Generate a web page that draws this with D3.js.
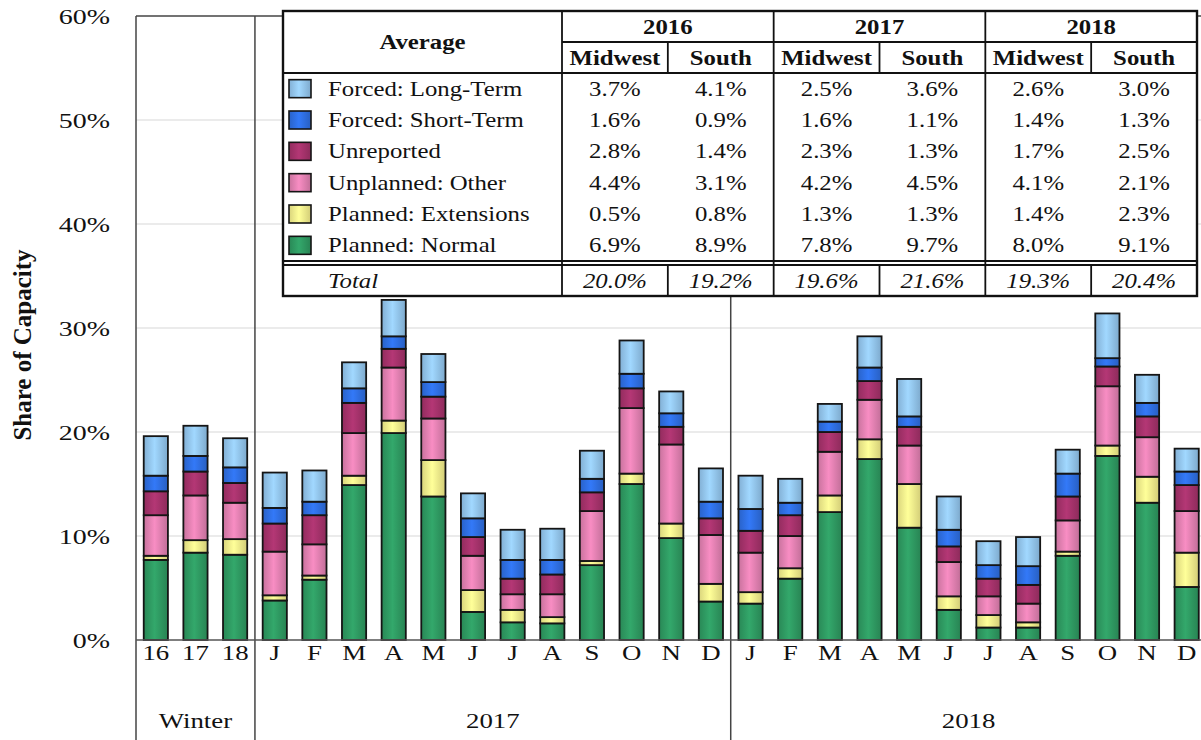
<!DOCTYPE html>
<html>
<head>
<meta charset="utf-8">
<script src="https://cdn.jsdelivr.net/npm/d3@7"></script>
<style>
  body { margin: 0; background: #fff; }
  svg text { font-family: "Liberation Serif", "Times New Roman", serif; fill: #111; }
</style>
</head>
<body>
<div id="chart"></div>
<script>
// tick labels along the bottom (3 winter averages, then 2017 and 2018 months)
var tickLabels = ["16", "17", "18",
  "J", "F", "M", "A", "M", "J", "J", "A", "S", "O", "N", "D",
  "J", "F", "M", "A", "M", "J", "J", "A", "S", "O", "N", "D"];
var groupLabels = ["Winter", "2017", "2018"];
var groupStarts = [0, 3, 15];
var groupEnds = [3, 15, 27];
var yTicks = [0, 10, 20, 30, 40, 50, 60];

// series, bottom to top of each stack (% of capacity)
var planNormal = [7.7, 8.4, 8.2, 3.8, 5.8, 14.9, 19.9, 13.8, 2.7, 1.7, 1.6, 7.2, 15.0, 9.8, 3.7,
  3.5, 5.9, 12.3, 17.4, 10.8, 2.9, 1.2, 1.2, 8.1, 17.7, 13.2, 5.1];
var planExt = [0.4, 1.2, 1.5, 0.5, 0.4, 0.9, 1.2, 3.5, 2.1, 1.2, 0.6, 0.4, 1.0, 1.4, 1.7,
  1.1, 1.0, 1.6, 1.9, 4.2, 1.3, 1.2, 0.5, 0.4, 1.0, 2.5, 3.3];
var unplOther = [3.9, 4.3, 3.5, 4.2, 3.0, 4.1, 5.1, 4.0, 3.3, 1.5, 2.2, 4.8, 6.3, 7.6, 4.7,
  3.8, 3.1, 4.2, 3.8, 3.7, 3.3, 1.8, 1.8, 3.0, 5.7, 3.8, 4.0];
var unreported = [2.3, 2.3, 1.9, 2.7, 2.8, 2.9, 1.8, 2.1, 1.8, 1.5, 1.9, 1.8, 1.9, 1.7, 1.6,
  2.1, 2.0, 1.9, 1.8, 1.8, 1.5, 1.7, 1.8, 2.3, 1.9, 2.0, 2.5];
var forcedShort = [1.5, 1.5, 1.5, 1.5, 1.3, 1.4, 1.2, 1.4, 1.8, 1.8, 1.4, 1.3, 1.4, 1.3, 1.6,
  2.1, 1.2, 1.0, 1.3, 1.0, 1.6, 1.3, 1.8, 2.2, 0.8, 1.3, 1.3];
var forcedLong = [3.8, 2.9, 2.8, 3.4, 3.0, 2.5, 3.5, 2.7, 2.4, 2.9, 3.0, 2.7, 3.2, 2.1, 3.2,
  3.2, 2.3, 1.7, 3.0, 3.6, 3.2, 2.3, 2.8, 2.3, 4.3, 2.7, 2.2];

var seriesKeys = ["normal", "ext", "other", "unrep", "short", "long"];
var seriesColors = ["#2f9a62", "#f6f08c", "#e381b2", "#a5326b", "#2f6fe3", "#93c6f0"];

// table of averages
var tableYears = ["2016", "2017", "2018"];
var tableRegions = ["Midwest", "South"];
// columns: 16 MW, 16 S, 17 MW, 17 S, 18 MW, 18 S
var avgLong = ["3.7%", "4.1%", "2.5%", "3.6%", "2.6%", "3.0%"];
var avgShort = ["1.6%", "0.9%", "1.6%", "1.1%", "1.4%", "1.3%"];
var avgUnrep = ["2.8%", "1.4%", "2.3%", "1.3%", "1.7%", "2.5%"];
var avgOther = ["4.4%", "3.1%", "4.2%", "4.5%", "4.1%", "2.1%"];
var avgExt = ["0.5%", "0.8%", "1.3%", "1.3%", "1.4%", "2.3%"];
var avgNormal = ["6.9%", "8.9%", "7.8%", "9.7%", "8.0%", "9.1%"];
var avgTotal = ["20.0%", "19.2%", "19.6%", "21.6%", "19.3%", "20.4%"];

var width = 1201, height = 740;
var plotLeft = 136, plotTop = 16, base = 640, plotBottom = 740;
var wide = 1.22;   // text in the source is drawn a bit wide

var svg = d3.select("#chart").append("svg")
    .attr("width", width)
    .attr("height", height);

var x = d3.scaleBand()
    .domain(d3.range(tickLabels.length))
    .range([plotLeft, 1206.5])      // last band runs a little past the window edge
    .paddingInner(0.39)
    .paddingOuter(0.195);

var y = d3.scaleLinear()
    .domain([0, 60])
    .range([base, plotTop]);

// place a text at (px,py) and widen it
function put(sel, px, py, k) {
  sel.attr("transform", function(d, i) {
    var a = typeof px === "function" ? px(d, i) : px;
    var b = typeof py === "function" ? py(d, i) : py;
    return "translate(" + a + "," + b + ") scale(" + (k || wide) + ",1)";
  });
}

// glossy fills
var defs = svg.append("defs");
seriesColors.forEach(function(c, i) {
  var g = defs.append("linearGradient").attr("id", "g" + i)
      .attr("x1", 0).attr("x2", 1).attr("y1", 0).attr("y2", 0);
  var col = d3.color(c);
  g.append("stop").attr("offset", "0%").attr("stop-color", col.darker(0.35));
  g.append("stop").attr("offset", "45%").attr("stop-color", col.brighter(0.25));
  g.append("stop").attr("offset", "100%").attr("stop-color", col.darker(0.45));
});

// grid
svg.append("g").selectAll("line")
  .data(yTicks.filter(function(d) { return d > 0 && d < 60; }))
  .enter().append("line")
    .attr("x1", plotLeft).attr("x2", width)
    .attr("y1", function(d) { return y(d); })
    .attr("y2", function(d) { return y(d); })
    .attr("stroke", "#d8d8d8")
    .attr("stroke-width", 1.2);

// top border of plot area
svg.append("line")
    .attr("x1", plotLeft).attr("x2", width)
    .attr("y1", y(60)).attr("y2", y(60))
    .attr("stroke", "#444").attr("stroke-width", 1.5);

// vertical separators (plot edge + group breaks), reaching down to the group labels
svg.append("g").selectAll("line")
  .data(groupStarts)
  .enter().append("line")
    .attr("x1", function(i) { return plotLeft + x.step() * i; })
    .attr("x2", function(i) { return plotLeft + x.step() * i; })
    .attr("y1", plotTop).attr("y2", plotBottom)
    .attr("stroke", "#444")
    .attr("stroke-width", 1.5);

// stacked bars
var rows = tickLabels.map(function(t, i) {
  return {i: i, normal: planNormal[i], ext: planExt[i], other: unplOther[i],
          unrep: unreported[i], short: forcedShort[i], long: forcedLong[i]};
});
var stack = d3.stack().keys(seriesKeys)(rows);

svg.append("g").selectAll("g")
  .data(stack)
  .enter().append("g")
    .attr("fill", function(d, k) { return "url(#g" + k + ")"; })
  .selectAll("rect")
  .data(function(d) { return d; })
  .enter().append("rect")
    .attr("x", function(d) { return x(d.data.i); })
    .attr("y", function(d) { return y(d[1]); })
    .attr("width", x.bandwidth())
    .attr("height", function(d) { return y(d[0]) - y(d[1]); })
    .attr("stroke", "#151515")
    .attr("stroke-width", 1.8);

// x axis line
svg.append("line")
    .attr("x1", plotLeft).attr("x2", width)
    .attr("y1", base).attr("y2", base)
    .attr("stroke", "#555").attr("stroke-width", 1.5);

// y axis labels
var yAxis = svg.append("g")
    .attr("transform", "translate(" + plotLeft + ",0)")
    .call(d3.axisLeft(y).tickValues(yTicks).tickFormat(function(d) { return d + "%"; })
      .tickSize(0).tickPadding(26));
yAxis.select(".domain").remove();
yAxis.selectAll("text")
    .attr("x", -26 / 1.27)
    .attr("transform", "scale(1.27,1)")
    .style("font-size", "22px")
    .style("font-family", "'Liberation Serif', serif")
    .attr("fill", "#111");

// x axis labels
var xAxis = svg.append("g")
    .attr("transform", "translate(0," + base + ")")
    .call(d3.axisBottom(x).tickFormat(function(i) { return tickLabels[i]; })
      .tickSize(0).tickPadding(4));
xAxis.select(".domain").remove();
xAxis.selectAll("text")
    .attr("transform", "scale(1.22,1)")
    .style("font-size", "22px")
    .style("font-family", "'Liberation Serif', serif")
    .attr("fill", "#111");

// group labels
svg.append("g").selectAll("text")
  .data(groupLabels)
  .enter().append("text")
    .call(put, function(d, k) { return plotLeft + x.step() * (groupStarts[k] + groupEnds[k]) / 2; }, 728)
    .attr("text-anchor", "middle")
    .style("font-size", "22px")
    .text(function(d) { return d; });

// y title
svg.append("text")
    .attr("transform", "translate(31,345) rotate(-90)")
    .attr("text-anchor", "middle")
    .style("font-size", "25px")
    .style("font-weight", "bold")
    .text("Share of Capacity");

// ---- averages table / legend ----
var tL = 283, tR = 1197, tTop = 11, hMid = 42, hBot = 73, dBot = 261, totTop = 265, tBot = 296;
var colX = d3.scaleBand().domain(d3.range(6)).range([562, tR]);
var legendRows = [
  {name: "Forced: Long-Term", c: 5, v: avgLong},
  {name: "Forced: Short-Term", c: 4, v: avgShort},
  {name: "Unreported", c: 3, v: avgUnrep},
  {name: "Unplanned: Other", c: 2, v: avgOther},
  {name: "Planned: Extensions", c: 1, v: avgExt},
  {name: "Planned: Normal", c: 0, v: avgNormal}
];
var rowY = d3.scaleBand().domain(d3.range(legendRows.length)).range([hBot, dBot]);
var tk = 1.18;

var tbl = svg.append("g");
tbl.append("rect")
    .attr("x", tL).attr("y", tTop)
    .attr("width", tR - tL).attr("height", tBot - tTop)
    .attr("fill", "#fff");

function hline(x1, x2, yy, w) {
  tbl.append("line").attr("x1", x1).attr("x2", x2).attr("y1", yy).attr("y2", yy)
    .attr("stroke", "#111").attr("stroke-width", w);
}
function vline(xx, y1, y2, w) {
  tbl.append("line").attr("x1", xx).attr("x2", xx).attr("y1", y1).attr("y2", y2)
    .attr("stroke", "#111").attr("stroke-width", w);
}
hline(562, tR, hMid, 1.8);
hline(tL, tR, hBot, 1.8);
hline(tL, tR, dBot, 1.8);
hline(tL, tR, totTop, 1.8);
vline(562, tTop, tBot, 1.8);
[2, 4].forEach(function(c) { vline(colX(c), tTop, tBot, 1.8); });
[1, 3, 5].forEach(function(c) {
  vline(colX(c), hMid, hBot, 1.8);
  vline(colX(c), totTop, tBot, 1.8);
});
tbl.append("rect")
    .attr("x", tL).attr("y", tTop)
    .attr("width", tR - tL).attr("height", tBot - tTop)
    .attr("fill", "none").attr("stroke", "#111").attr("stroke-width", 2.4);

// headers
tbl.append("text")
    .call(put, (tL + 562) / 2, (tTop + hBot) / 2 + 7, tk)
    .attr("text-anchor", "middle")
    .style("font-size", "21px").style("font-weight", "bold")
    .text("Average");
tbl.selectAll(".yr").data(tableYears).enter().append("text")
    .call(put, function(d, k) { return colX(2 * k) + colX.bandwidth(); }, (tTop + hMid) / 2 + 7, tk)
    .attr("text-anchor", "middle")
    .style("font-size", "21px").style("font-weight", "bold")
    .text(function(d) { return d; });
tbl.selectAll(".rg").data(d3.range(6)).enter().append("text")
    .call(put, function(c) { return colX(c) + colX.bandwidth() / 2; }, (hMid + hBot) / 2 + 7, tk)
    .attr("text-anchor", "middle")
    .style("font-size", "21px").style("font-weight", "bold")
    .text(function(c) { return tableRegions[c % 2]; });

// legend rows
var lr = tbl.selectAll(".lr").data(legendRows).enter().append("g")
    .attr("transform", function(d, k) { return "translate(0," + (rowY(k) + rowY.bandwidth() / 2) + ")"; });
lr.append("rect")
    .attr("x", 289).attr("y", -9)
    .attr("width", 22).attr("height", 18)
    .attr("fill", function(d) { return "url(#g" + d.c + ")"; })
    .attr("stroke", "#151515").attr("stroke-width", 1.6);
lr.append("text")
    .call(put, 328, 7, tk)
    .style("font-size", "21px")
    .text(function(d) { return d.name; });
lr.selectAll(".v").data(function(d) { return d.v; }).enter().append("text")
    .call(put, function(v, c) { return colX(c) + colX.bandwidth() / 2; }, 7, tk)
    .attr("text-anchor", "middle")
    .style("font-size", "21px")
    .text(function(v) { return v; });

// totals
var tot = tbl.append("g").attr("transform", "translate(0," + ((totTop + tBot) / 2 + 7) + ")");
tot.append("text")
    .call(put, 328, 0, tk)
    .style("font-size", "21px").style("font-style", "italic")
    .text("Total");
tot.selectAll(".t").data(avgTotal).enter().append("text")
    .call(put, function(v, c) { return colX(c) + colX.bandwidth() / 2; }, 0, tk)
    .attr("text-anchor", "middle")
    .style("font-size", "21px").style("font-style", "italic")
    .text(function(v) { return v; });
</script>
</body>
</html>
